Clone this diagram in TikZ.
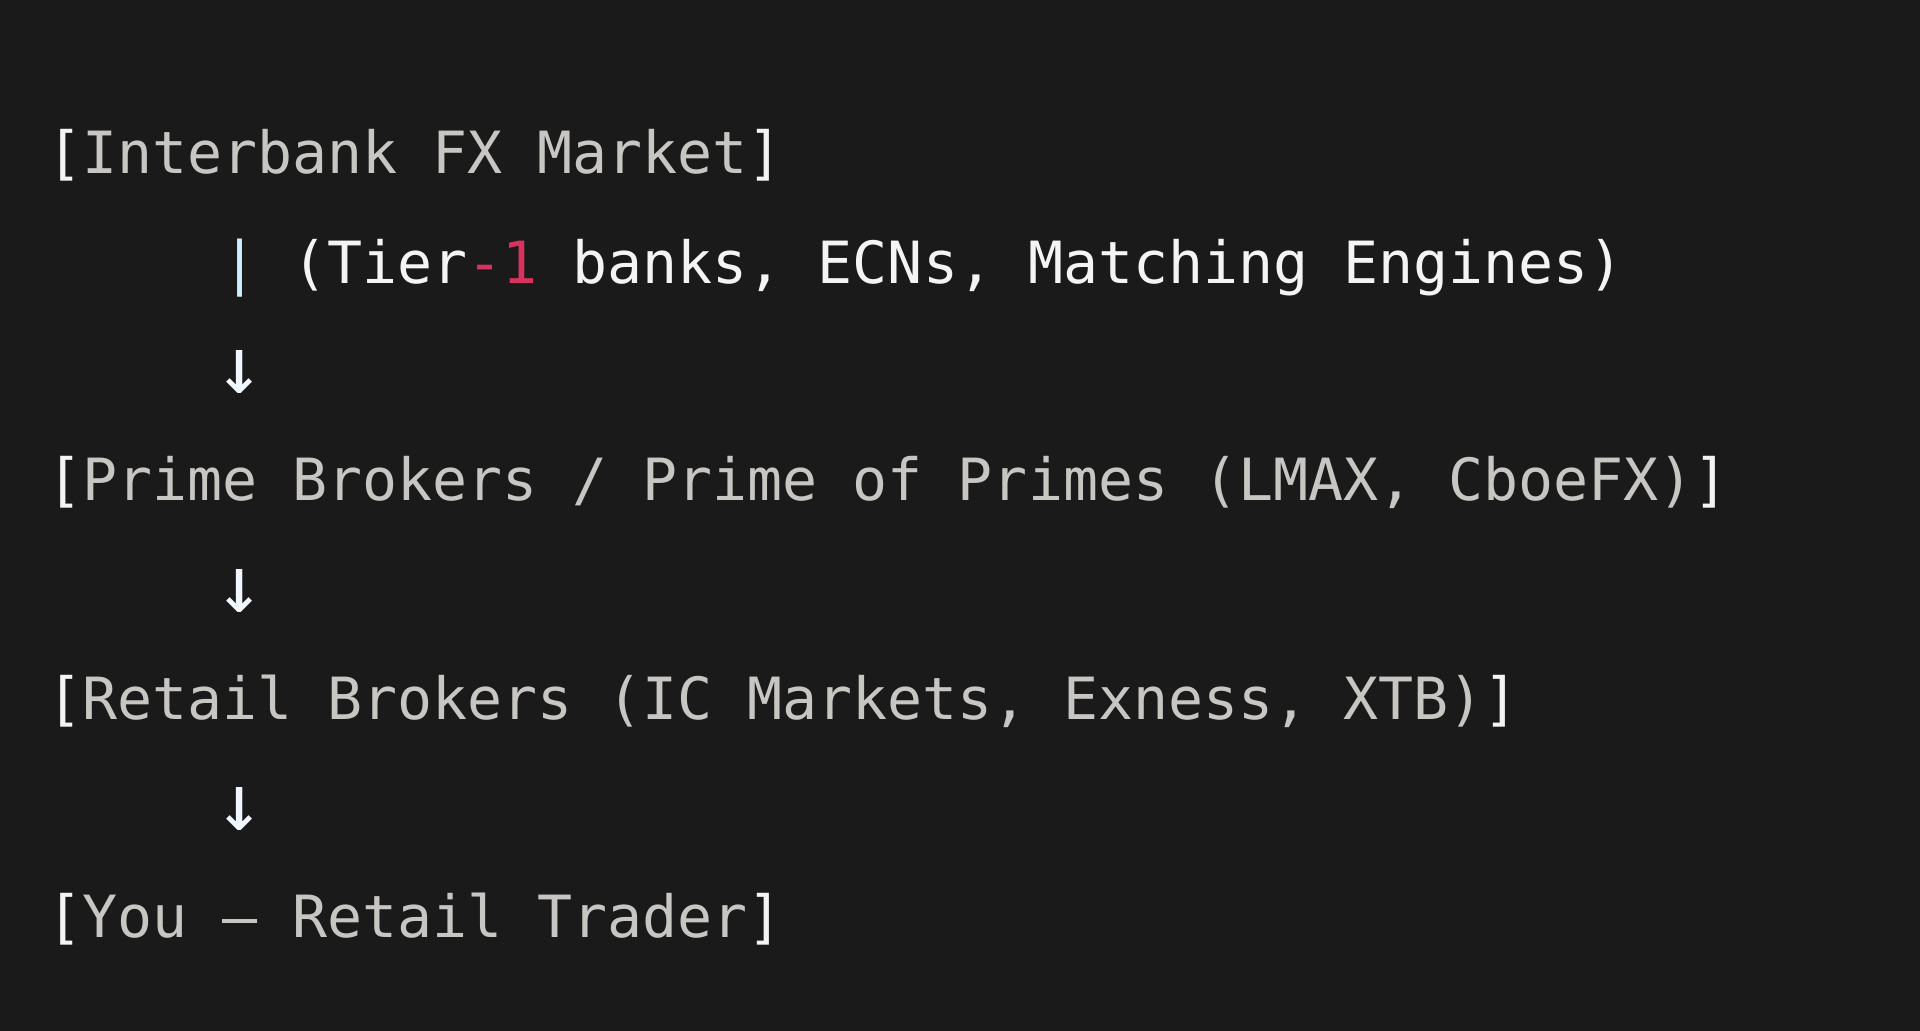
\documentclass[tikz,border=0pt]{standalone}
\usepackage{fontspec}
\newfontfamily\codefont{DejaVu Sans Mono}
\definecolor{bgc}{HTML}{1B1A1A}
\definecolor{brk}{HTML}{F4F4F4}
\definecolor{txtgray}{HTML}{C8C6C2}
\definecolor{txtwhite}{HTML}{F4F4F4}
\definecolor{numred}{HTML}{D8335F}
\definecolor{pipec}{HTML}{CDEFFF}
\definecolor{arrc}{HTML}{F0F7FF}
\tikzset{
  codeline/.style={anchor=base west, inner sep=0pt, outer sep=0pt,
    font=\codefont\fontsize{29.1pt}{30pt}\selectfont, text=txtgray},
  arrline/.style={anchor=base, inner sep=0pt, outer sep=0pt,
    font=\codefont\fontsize{40pt}{42pt}\selectfont, text=arrc},
}
\newcommand{\bk}[1]{\textcolor{brk}{#1}}
\begin{document}
\begin{tikzpicture}[x=0.5pt,y=-0.5pt]
  \fill[bgc] (0,0) rectangle (1920,1031);
  \useasboundingbox (0,0) rectangle (1920,1031);
  \def\cw{35.05}
  \node[codeline] (l1) at (47,174) {\bk{[}Interbank FX Market\bk{]}};
  \node[codeline, text=txtwhite] (l2) at (47+5*\cw,284) {\textcolor{pipec}{|} (Tier\textcolor{numred}{-1} banks, ECNs, Matching Engines)};
  \node[arrline] (a1) at (47+5.5*\cw,394) {↓};
  \node[codeline] (l4) at (47,501) {\bk{[}Prime Brokers / Prime of Primes (LMAX, CboeFX)\bk{]}};
  \node[arrline] (a2) at (47+5.5*\cw,612) {↓};
  \node[codeline] (l6) at (47,719) {\bk{[}Retail Brokers (IC Markets, Exness, XTB)\bk{]}};
  \node[arrline] (a3) at (47+5.5*\cw,830) {↓};
  \node[codeline] (l8) at (47,937) {\bk{[}You — Retail Trader\bk{]}};
\end{tikzpicture}
\end{document}
